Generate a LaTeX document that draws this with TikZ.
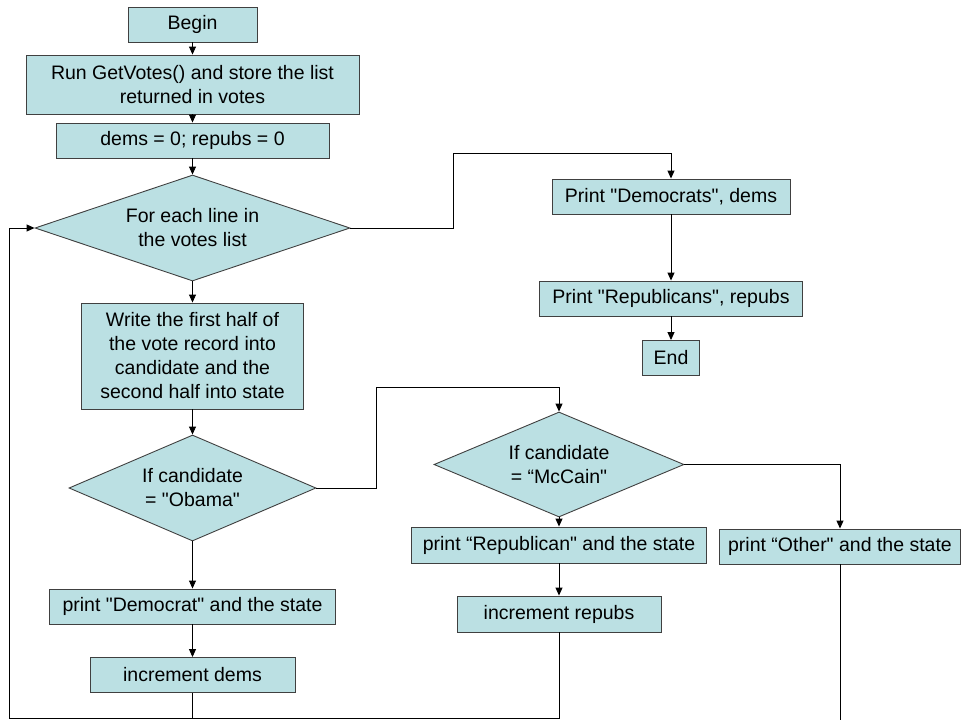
\documentclass[tikz,border=0pt]{standalone}
\usepackage{fontspec}
\setmainfont{Liberation Sans}[Ligatures=TeXOff]
\usetikzlibrary{shapes.geometric,arrows.meta}
\definecolor{boxfill}{RGB}{187,224,227}
\definecolor{boxline}{RGB}{64,64,64}
\begin{document}
\begin{tikzpicture}
  [x=1pt,y=-1pt,every node/.style={draw=boxline,fill=boxfill,line width=0.9pt,inner sep=0pt,
    align=center,font=\fontsize{19.5}{24}\selectfont}]
  \tikzstyle{test} = [diamond]
  \tikzstyle{flow} = [-{Triangle[length=8pt,width=7pt]},line width=0.9pt]
  \useasboundingbox (0,0) rectangle (961,720);
  \node[minimum width=129,minimum height=35] (begin) at (192.5,24.5) {Begin};
  \node[minimum width=333,minimum height=59] (getvotes) at (192.5,84.5) {Run GetVotes() and store the list\\returned in votes};
  \node[minimum width=273,minimum height=35] (init) at (192.5,140.5) {dems = 0; repubs = 0};
  \node[test,aspect=2.97,minimum width=315,minimum height=106] (loop) at (192.5,228) {For each line in\\the votes list};
  \node[minimum width=222,minimum height=106] (split) at (192.5,356) {Write the first half of\\the vote record into\\candidate and the\\second half into state};
  \node[test,aspect=2.33,minimum width=247,minimum height=106] (obama) at (192.5,488) {If candidate\\= "Obama"};
  \node[minimum width=286,minimum height=35] (prdem) at (192.5,606.5) {print "Democrat" and the state};
  \node[minimum width=205,minimum height=35] (incdem) at (192.5,675) {increment dems};
  \node[minimum width=238,minimum height=35] (prdems) at (671,196.5) {Print "Democrats", dems};
  \node[minimum width=263,minimum height=35] (prreps) at (671,298.5) {Print "Republicans", repubs};
  \node[minimum width=57,minimum height=35] (end) at (671,358) {End};
  \node[test,aspect=2.38,minimum width=250,minimum height=105] (mccain) at (559,464.5) {If candidate\\= “McCain"};
  \node[minimum width=295,minimum height=36] (prrep) at (559,545) {print “Republican" and the state};
  \node[minimum width=204,minimum height=36] (increp) at (559,614) {increment repubs};
  \node[minimum width=241,minimum height=35] (prother) at (840,546.5) {print “Other" and the state};

  \coordinate (up1) at (453,153);
  \coordinate (up2) at (376,387);
  \coordinate (corner) at (9,718);
  \coordinate (offpage) at (840,720);

\foreach \source/\dest in {begin/getvotes,getvotes/init,init/loop,loop/split,split/obama,obama/prdem,
    prdem/incdem,prdems/prreps,prreps/end,mccain/prrep,prrep/increp}
   \draw[flow] (\source) -- (\dest);

  \draw[flow] (loop.east) -| (up1) -| (prdems.north);
  \draw[flow] (obama.east) -| (up2) -| (mccain.north);
  \draw[flow] (mccain.east) -| (prother.north);
  \draw[line width=0.9pt] (prother.south) -- (offpage);
  \draw[flow] (increp.south) |- (corner) |- (loop.west);
  \draw[line width=0.9pt] (incdem.south) -- (incdem.south |- corner);
  \end{tikzpicture}
\end{document}
